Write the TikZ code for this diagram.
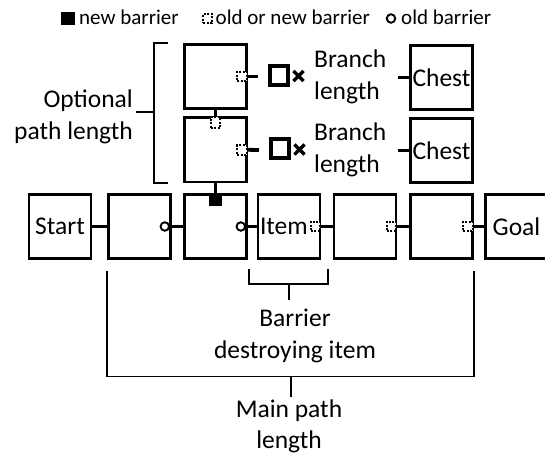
\documentclass[tikz,border=0pt]{standalone}
\usepackage{fontspec}
\setmainfont{Carlito}
\usetikzlibrary{shapes.misc}
\begin{document}
\begin{tikzpicture}[x=1pt,y=-1pt,
  rbox/.style={draw, line width=2.6pt, minimum width=62pt, minimum height=64.5pt, inner sep=0pt, font=\fontsize{25.5}{32}\selectfont},
  txt/.style={inner sep=0pt, font=\fontsize{25.5}{32}\selectfont},
  legtxt/.style={inner sep=0pt, font=\fontsize{21}{24}\selectfont, anchor=base west},
  conn/.style={line width=3.8pt},
  bracketline/.style={line width=1.5pt},
  oldbar/.style={circle, draw, line width=1.9pt, fill=white, minimum size=8.5pt, inner sep=0pt},
  dotbar/.style={draw, line width=2pt, dash pattern=on 2pt off 1.5pt, minimum size=9.5pt, inner sep=0pt, fill=white},
  newbar/.style={fill=black, minimum width=13pt, minimum height=13pt, inner sep=0pt},
  hollowsq/.style={draw, line width=4pt, minimum size=18.5pt, inner sep=0pt},
  xmark/.style={cross out, draw, line width=3.2pt, minimum size=7pt, inner sep=0pt}
]
\useasboundingbox (0,0) rectangle (545,455);
\clip (0,0) rectangle (545,455);

% legend
\node[newbar, minimum width=14pt, minimum height=13pt] (lnew) at (67.5,18.5) {};
\node[legtxt] (lnewt) at (79,24.5) {new barrier};
\node[dotbar, minimum size=9pt] (lold) at (207.5,18.5) {};
\node[legtxt] (loldt) at (215.5,24.5) {old or new barrier};
\node[oldbar] (lcirc) at (391,18.5) {};
\node[legtxt] (lcirct) at (401,24.5) {old barrier};

% main row
\node[rbox] (start) at (60,226.5) {Start};
\node[rbox] (b2) at (139.5,226.5) {};
\node[rbox] (b3) at (215.5,226.5) {};
\node[rbox, text width=58pt, align=left, inner xsep=2pt] (item) at (289,226.5) {Item};
\node[rbox] (b5) at (365,226.5) {};
\node[rbox] (b6) at (441.5,226.5) {};
\node[rbox] (goal) at (516.5,226.5) {Goal};

% branch boxes
\node[rbox] (up) at (215.5,76.5) {};
\node[rbox] (lo) at (215.5,149.8) {};
\node[rbox] (chu) at (441.5,77.5) {Chest};
\node[rbox] (chl) at (441.5,150.5) {Chest};

% barriers on main row
\node[oldbar] (c2) at ([xshift=-7pt]b2.east) {};
\node[oldbar] (c3) at ([xshift=-7pt]b3.east) {};
\node[dotbar, anchor=east] (d4) at (item.east) {};
\node[dotbar, anchor=east] (d5) at (b5.east) {};
\node[dotbar, anchor=east] (d6) at (b6.east) {};
\node[newbar, anchor=north] (n3) at (b3.north) {};

% barriers on branch boxes
\node[dotbar, anchor=east] (du) at (up.east) {};
\node[dotbar, anchor=east] (dl) at (lo.east) {};
\node[dotbar, anchor=north, minimum height=11pt] (dlt) at (lo.north) {};

% connectors main row
\draw[conn] (start) -- (b2);
\draw[conn] (c2) -- (b3);
\draw[conn] (c3) -- (item);
\draw[conn] (item) -- (b5);
\draw[conn] (b5) -- (b6);
\draw[conn] (b6) -- (goal);
\draw[conn] (lo) -- (n3);
\draw[conn] (up) -- (lo);

% branch stubs
\coordinate (ue) at (258,76.5);
\coordinate (le) at (259,150);
\draw[conn] (up.east) -- (ue);
\draw[conn] (lo.east) -- (le);
\node[hollowsq] (squ) at (279,75.5) {};
\node[hollowsq] (sql) at (280,148.5) {};
\node[xmark] (xu) at (298.5,76) {};
\node[xmark] (xl) at (299.5,149.5) {};

\node[txt, align=left, anchor=west] (blu) at (314,76.5) {Branch\\length};
\node[txt, align=left, anchor=west] (bll) at (314,149.5) {Branch\\length};

\coordinate (cu) at (398,77.5);
\coordinate (cl) at (398,150.5);
\draw[conn] (cu) -- (chu.west);
\draw[conn] (cl) -- (chl.west);

% optional bracket
\draw[bracketline] (168,43) -- (154,43) -- (154,183) -- (168,183);
\draw[bracketline] (154,112) -- (136,112);
\node[txt, align=right, anchor=east] (opt) at (133,116.5) {Optional\\path length};

% item bracket
\draw[bracketline] (249,269) -- (249,284) -- (328,284) -- (328,269);
\draw[bracketline] (289,284) -- (289,300);
\node[txt, align=center, anchor=north] (bdi) at (295,309) {Barrier\\destroying item};

% main bracket
\draw[bracketline] (b2.west |- 0,271) -- (b2.west |- 0,376.5) -- (b6.east |- 0,376.5) -- (b6.east |- 0,271);
\draw[bracketline] (291,376.5) -- (291,397);
\node[txt, align=center, anchor=north, font=\fontsize{25.5}{30.5}\selectfont] (mpl) at (289,400) {Main path\\length};
\end{tikzpicture}
\end{document}
